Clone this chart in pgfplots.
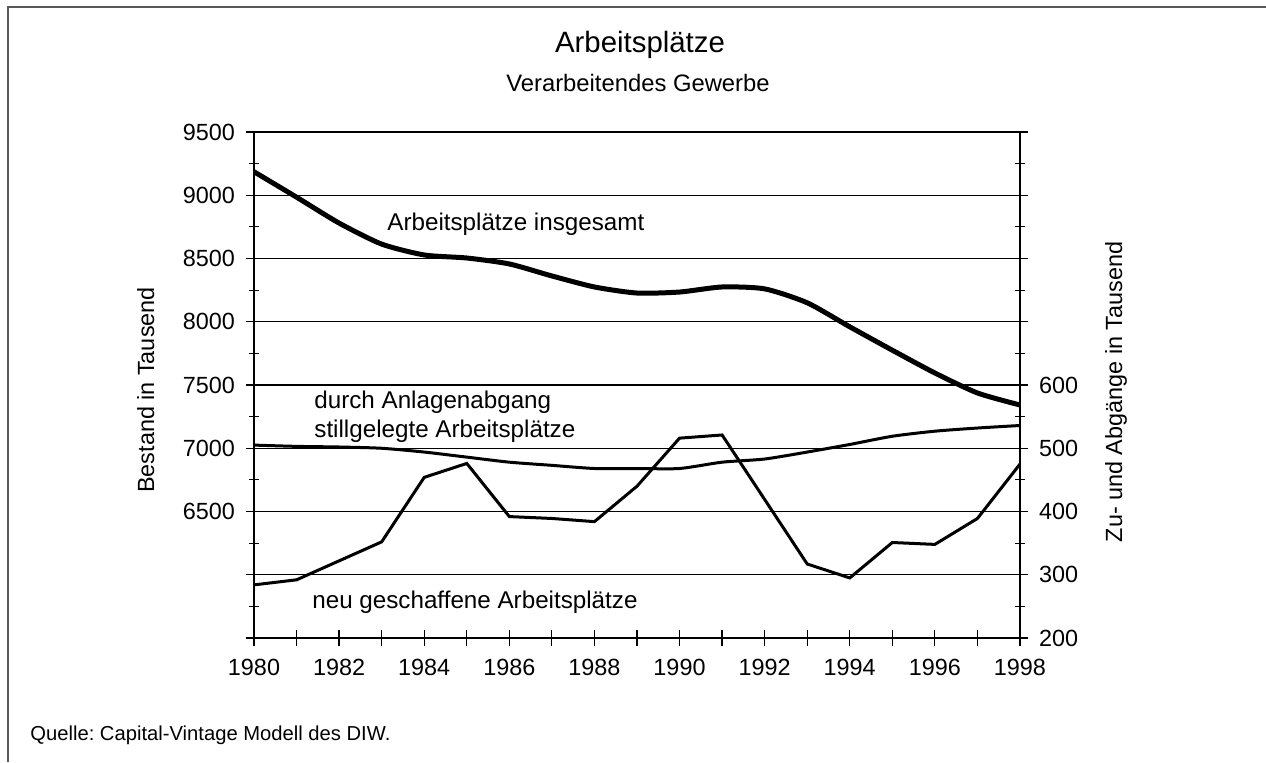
\documentclass[border=0pt]{standalone}
\usepackage{fontspec}
\setmainfont{Liberation Sans}
\usepackage{pgfplots}
\pgfplotsset{compat=1.18}

% Bestand (linke Achse) und Zu-/Abgaenge (rechte Achse), in Tausend
\newcommand{\ticks}{\fontsize{11.7}{14}\selectfont}
\newcommand{\ann}{\fontsize{12.1}{14}\selectfont}

\begin{document}
\frenchspacing
\begin{tikzpicture}
% frame and bounding box, pixel units
\begin{scope}[x=0.5pt,y=-0.5pt]
  \path[use as bounding box] (0,0) rectangle (1266,762);
  \draw[line width=1pt,black!65] (1266,7) -- (8,7) -- (8,762);
\end{scope}

\begin{axis}[
    at={(127pt,-319pt)}, anchor=south west,
    scale only axis, width=383pt, height=253pt,
    xmin=1980, xmax=1998, ymin=5500, ymax=9500,
    axis x line*=bottom, axis y line*=left,
    axis line style={line width=0.8pt},
    xtick={1980,...,1998},
    xticklabels={1980,,1982,,1984,,1986,,1988,,1990,,1992,,1994,,1996,,1998},
    ytick={5500,6000,...,9500},
    yticklabels={,,6500,7000,7500,8000,8500,9000,9500},
    minor y tick num=1,
    tick align=center,
    major tick length=8pt, minor tick length=5pt,
    tick style={black, line width=0.6pt},
    ymajorgrids, major grid style={black, line width=0.6pt},
    ticklabel style={font=\ticks},
    xticklabel style={yshift=-3pt},
    yticklabel style={xshift=-2pt},
]
\addplot[black, line width=2.5pt, smooth, tension=0.4] coordinates {
 (1980,9186) (1981,8985) (1982,8780) (1983,8614) (1984,8528)
 (1985,8504) (1986,8457) (1987,8362) (1988,8275) (1989,8227)
 (1990,8235) (1991,8275) (1992,8260) (1993,8150) (1994,7960)
 (1995,7775) (1996,7595) (1997,7437) (1998,7342)
};
\end{axis}

\begin{axis}[
    at={(127pt,-319pt)}, anchor=south west,
    scale only axis, width=383pt, height=253pt,
    xmin=1980, xmax=1998, ymin=200, ymax=1000,
    axis x line=none, axis y line*=right,
    axis line style={line width=0.8pt},
    ytick={200,300,...,1000},
    yticklabels={200,300,400,500,600,,,,},
    minor y tick num=1,
    tick align=center,
    major tick length=8pt, minor tick length=5pt,
    tick style={black, line width=0.6pt},
    ticklabel style={font=\ticks},
    yticklabel style={xshift=2pt},
]
% durch Anlagenabgang stillgelegte Arbeitsplaetze
\addplot[black, line width=1.5pt, smooth, tension=0.4] coordinates {
 (1980,505) (1981,503) (1982,502) (1983,500) (1984,494)
 (1985,486) (1986,478) (1987,473) (1988,468) (1989,468)
 (1990,468) (1991,478) (1992,483) (1993,494) (1994,506)
 (1995,519) (1996,527) (1997,532) (1998,536)
};
% neu geschaffene Arbeitsplaetze
\addplot[black, line width=1.5pt] coordinates {
 (1980,284) (1981,292) (1982,322) (1983,352) (1984,454)
 (1985,476) (1986,392) (1987,389) (1988,384) (1989,440)
 (1990,516) (1991,521) (1992,419) (1993,317) (1994,295)
 (1995,351) (1996,348) (1997,389) (1998,475)
};
\end{axis}

\begin{scope}[x=0.5pt,y=-0.5pt]
  \node[anchor=base, font=\fontsize{14.7}{17}\selectfont] at (640,52.7) {Arbeitsplätze};
  \node[anchor=base, font=\fontsize{11.9}{14}\selectfont] at (638,91.7) {Verarbeitendes Gewerbe};
  \node[anchor=base west, font=\ann, inner sep=0pt] at (387,230) {Arbeitsplätze insgesamt};
  \node[anchor=base west, font=\ann, inner sep=0pt] at (314,408) {durch Anlagenabgang};
  \node[anchor=base west, font=\ann, inner sep=0pt] at (314,437) {stillgelegte Arbeitsplätze};
  \node[anchor=base west, font=\ann, inner sep=0pt] at (312,608) {neu geschaffene Arbeitsplätze};
  \node[anchor=base, rotate=90, font=\ticks, inner sep=0pt] at (154,390) {Bestand in Tausend};
  \node[anchor=base, rotate=90, font=\ticks, inner sep=0pt] at (1122,392) {Zu- und Abgänge in Tausend};
  \node[anchor=base west, font=\fontsize{10.1}{12}\selectfont, inner sep=0pt] at (30,740) {Quelle: Capital-Vintage Modell des DIW.};
\end{scope}
\end{tikzpicture}
\end{document}
